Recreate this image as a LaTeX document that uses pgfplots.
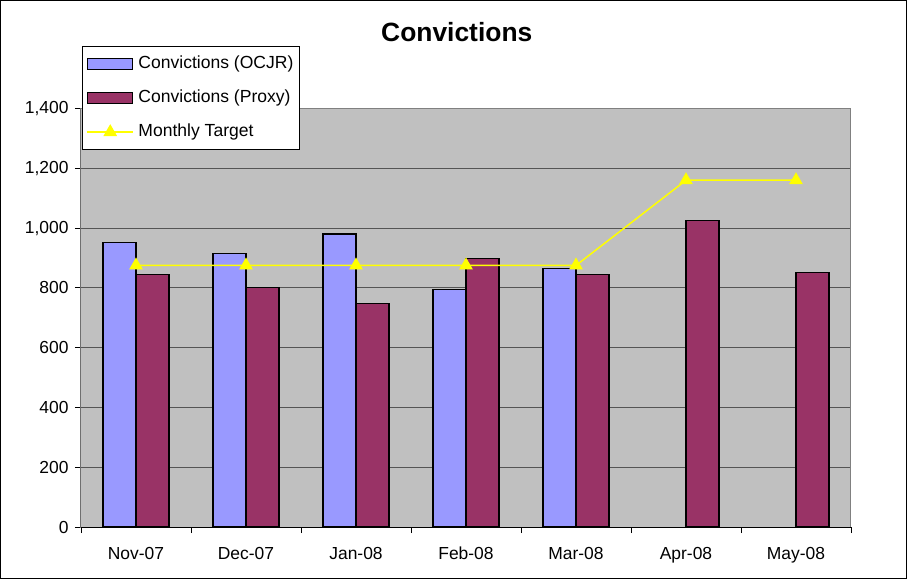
\documentclass[border=0pt]{standalone}
\usepackage{fontspec}
\setmainfont{Liberation Sans}
\usepackage{pgfplots}
\pgfplotsset{compat=1.18}
\definecolor{ocjr}{HTML}{9999FF}
\definecolor{proxy}{HTML}{993366}
\definecolor{plotbg}{HTML}{C0C0C0}
\definecolor{target}{HTML}{FFFF00}
\definecolor{gridc}{HTML}{555555}
\pgfplotsset{
  barlegend/.style={legend image code/.code={\draw[##1] (0bp,-5.5bp) rectangle (45bp,5.5bp);}},
  linelegend/.style={legend image code/.code={\draw[##1, mark repeat=2, mark phase=2] plot coordinates {(0bp,0bp)(23bp,0bp)(46bp,0bp)};}},
}

\begin{document}
\begin{tikzpicture}
\begin{axis}[
  at={(0,0)}, anchor=south west,
  scale only axis, width=770bp, height=418.5bp,
  xmin=-0.5, xmax=6.5, ymin=0, ymax=1400,
  ytick={0,200,...,1400},
  xtick={-0.5,0.5,...,6.5}, xticklabels={},
  extra x ticks={0,1,2,3,4,5,6},
  extra x tick labels={Nov-07,Dec-07,Jan-08,Feb-08,Mar-08,Apr-08,May-08},
  extra x tick style={major tick length=0pt,
    tick label style={yshift=-16bp, text height=12.5bp, text depth=3bp}},
  tick align=outside, major tick length=6bp,
  tick style={black, line width=0.8bp},
  xtick pos=bottom, ytick pos=left,
  ymajorgrids, grid style={gridc, line width=0.9bp},
  axis background/.style={fill=plotbg},
  axis line style={draw=gray, line width=1bp},
  /pgf/number format/.cd, 1000 sep={,}, assume math mode=true,
  /pgfplots/.cd,
  tick label style={font=\fontsize{17.5}{20}\selectfont, black},
  yticklabel style={xshift=-3bp},
  title={\textbf{Convictions}},
  title style={font=\fontsize{26.5}{31}\selectfont, at={(0.488,1.168)}, anchor=center},
  legend style={at={(0.0013,1.149)}, anchor=north west, draw=black, line width=1bp,
    fill=white, font=\fontsize{17.6}{21}\selectfont, inner xsep=4bp, inner ysep=6.5bp,
    row sep=12bp, nodes={inner sep=2.5bp, text height=13bp, text depth=4bp},
    /tikz/every odd column/.append style={column sep=2bp}},
  legend cell align=left,
]
\addplot[ybar, bar width=0.3, bar shift=-0.15, fill=ocjr, draw=black, line width=1.1bp, barlegend]
  coordinates {(0,951)(1,915)(2,980)(3,793)(4,864)};
\addlegendentry{Convictions (OCJR)}
\addplot[ybar, bar width=0.3, bar shift=0.15, fill=proxy, draw=black, line width=1.1bp, barlegend]
  coordinates {(0,846)(1,800)(2,748)(3,898)(4,845)(5,1026)(6,851)};
\addlegendentry{Convictions (Proxy)}
\addplot[sharp plot, color=target, line width=1.5bp, mark=triangle*, mark size=6.5bp,
  mark options={fill=target, draw=target}, linelegend]
  coordinates {(0,875)(1,875)(2,875)(3,875)(4,875)(5,1160)(6,1160)};
\addlegendentry{Monthly Target}
\draw[black, line width=1bp] (rel axis cs:0,1) -- (rel axis cs:0,0) -- (rel axis cs:1,0);
\end{axis}
\draw[black, line width=1bp] (-80.5bp,-51.5bp) rectangle (825.5bp,526.5bp);
\end{tikzpicture}
\end{document}
